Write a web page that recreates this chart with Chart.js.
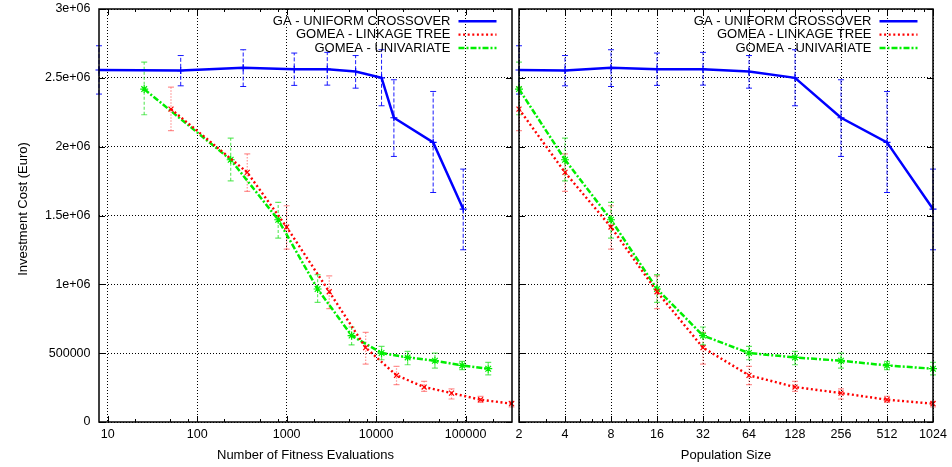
<!DOCTYPE html>
<html><head><meta charset="utf-8">
<script src="https://cdn.jsdelivr.net/npm/chart.js@4"></script>
<style>
html,body{margin:0;padding:0;background:#fff;}
#wrap{position:relative;width:952px;height:467px;background:#fff;}
canvas{position:absolute;left:0;top:0;}
</style></head><body>
<div id="wrap"><canvas id="c1" width="952" height="467"></canvas><canvas id="c2" width="952" height="467"></canvas></div>
<script>
// ---- data ----
const seriesNames = ['GA - UNIFORM CROSSOVER', 'GOMEA - LINKAGE TREE', 'GOMEA - UNIVARIATE'];
const popSizes = [2, 4, 8, 16, 32, 64, 128, 256, 512, 1024];

const gaEvals = [8, 65.5, 327, 1216, 2845, 5900, 11500, 15800, 43400, 94000];
const gaCost  = [2557000, 2553000, 2573000, 2563000, 2563000, 2546000, 2500000, 2210000, 2031000, 1547000];
const gaLo    = [2382000, 2442000, 2437000, 2445000, 2447000, 2425000, 2297000, 1929000, 1667000, 1251000];
const gaHi    = [2733000, 2662000, 2704000, 2680000, 2685000, 2662000, 2704000, 2486000, 2401000, 1837000];

const ltEvals = [51, 363, 1000, 2993, 7640, 16900, 34400, 69600, 147000, 326000];
const ltCost  = [2273000, 1813000, 1416000, 946000, 540000, 339000, 254000, 210000, 162000, 133000];
const ltLo    = [2116000, 1675000, 1256000, 823000, 421000, 271000, 222000, 167000, 142000, 109000];
const ltHi    = [2433000, 1948000, 1571000, 1062000, 651000, 404000, 295000, 240000, 186000, 150000];

const uniEvals = [25.6, 237, 805, 2218, 5320, 11500, 22500, 45400, 91600, 179000];
const uniCost  = [2418000, 1905000, 1469000, 966000, 628000, 501000, 469000, 445000, 411000, 387000];
const uniLo    = [2232000, 1752000, 1336000, 869000, 560000, 452000, 416000, 392000, 380000, 343000];
const uniHi    = [2614000, 2062000, 1595000, 1070000, 690000, 549000, 513000, 501000, 440000, 433000];

const evalTicks = [10, 100, 1000, 10000, 100000];
const evalTickLabels = ['10', '100', '1000', '10000', '100000'];
const evalMinorTicks = [20, 50, 80, 200, 500, 800, 2000, 5000, 8000, 20000, 50000, 80000, 200000];
const popTicks = [2, 4, 8, 16, 32, 64, 128, 256, 512, 1024];
const popTickLabels = ['2', '4', '8', '16', '32', '64', '128', '256', '512', '1024'];
const popMinorTicks = [3, 5, 6, 7, 10, 12, 14, 20, 24, 28, 40, 48, 56, 80, 96, 112, 160, 192, 224, 320, 384, 448, 640, 768, 896];
const costTicks = [0, 500000, 1000000, 1500000, 2000000, 2500000, 3000000];
const costTickLabels = ['0', '500000', '1e+06', '1.5e+06', '2e+06', '2.5e+06', '3e+06'];

const yTitle = 'Investment Cost (Euro)';
const xTitleLeft = 'Number of Fitness Evaluations';
const xTitleRight = 'Population Size';

// ---- styling ----
const FONT = '"Liberation Sans", Arial, Helvetica, sans-serif';
Chart.defaults.font.family = FONT;
Chart.defaults.color = '#000';

const styles = [
  {color: '#0000ff', width: 2.5, dash: [], point: 'cross', radius: 3.5,
   errColor: 'rgba(0,0,255,0.9)', errDash: [4, 2], errWidth: 1},
  {color: '#ff0000', width: 2.4, dash: [2, 2.6], point: 'crossRot', radius: 3.5,
   errColor: 'rgba(255,60,60,0.55)', errDash: [1.5, 1.5], errWidth: 1.2},
  {color: '#00ee00', width: 2.5, dash: [6, 2, 2, 2], point: 'star', radius: 4,
   errColor: 'rgba(0,220,0,0.6)', errDash: [3, 2], errWidth: 1.2}
];

function makeDatasets(xsList) {
  const ys = [gaCost, ltCost, uniCost];
  const lo = [gaLo, ltLo, uniLo];
  const hi = [gaHi, ltHi, uniHi];
  return seriesNames.map((name, k) => {
    const s = styles[k];
    return {
      label: name,
      data: xsList[k].map((x, i) => ({x: x, y: ys[k][i]})),
      borderColor: s.color, backgroundColor: s.color,
      borderWidth: s.width, borderDash: s.dash, borderCapStyle: 'butt',
      pointStyle: s.point, pointRadius: s.radius, pointBorderWidth: 1.2,
      pointBorderColor: s.color, pointBackgroundColor: s.color,
      fill: false, tension: 0, clip: false,
      errLo: lo[k], errHi: hi[k], errColor: s.errColor, errDash: s.errDash, errWidth: s.errWidth
    };
  });
}

const errPlugin = {
  id: 'errbars',
  beforeDatasetsDraw(chart) {
    const ctx = chart.ctx, xs = chart.scales.x, ys = chart.scales.y;
    chart.data.datasets.forEach(ds => {
      ctx.save();
      ctx.strokeStyle = ds.errColor;
      ctx.lineWidth = ds.errWidth;
      ds.data.forEach((p, i) => {
        const px = xs.getPixelForValue(p.x);
        const yl = ys.getPixelForValue(ds.errLo[i]);
        const yh = ys.getPixelForValue(ds.errHi[i]);
        ctx.setLineDash(ds.errDash);
        ctx.beginPath(); ctx.moveTo(px, yl); ctx.lineTo(px, yh); ctx.stroke();
        ctx.setLineDash([]);
        ctx.beginPath();
        ctx.moveTo(px - 3, yl); ctx.lineTo(px + 3, yl);
        ctx.moveTo(px - 3, yh); ctx.lineTo(px + 3, yh);
        ctx.stroke();
      });
      ctx.restore();
    });
  }
};

function framePlugin(minorTicks) {
  return {
    id: 'frame',
    afterDraw(chart) {
      const ctx = chart.ctx, a = chart.chartArea, xs = chart.scales.x, ys = chart.scales.y;
      ctx.save();
      ctx.strokeStyle = '#000';
      ctx.lineWidth = 1;
      ctx.beginPath();
      xs.ticks.forEach(t => {
        const px = Math.round(xs.getPixelForValue(t.value)) + 0.5;
        ctx.moveTo(px, a.bottom); ctx.lineTo(px, a.bottom - 6);
        ctx.moveTo(px, a.top); ctx.lineTo(px, a.top + 6);
      });
      minorTicks.forEach(v => {
        const px = Math.round(xs.getPixelForValue(v)) + 0.5;
        ctx.moveTo(px, a.bottom); ctx.lineTo(px, a.bottom - 3);
        ctx.moveTo(px, a.top); ctx.lineTo(px, a.top + 3);
      });
      ys.ticks.forEach(t => {
        const py = Math.round(ys.getPixelForValue(t.value)) + 0.5;
        ctx.moveTo(a.left, py); ctx.lineTo(a.left + 6, py);
        ctx.moveTo(a.right, py); ctx.lineTo(a.right - 6, py);
      });
      ctx.stroke();
      ctx.lineWidth = 1.5;
      ctx.strokeRect(a.left, a.top, a.right - a.left, a.bottom - a.top);
      ctx.restore();
    }
  };
}

const legendPlugin = {
  id: 'gpLegend',
  afterDatasetsDraw(chart) {
    const ctx = chart.ctx, a = chart.chartArea;
    const rows = [12.3, 25.6, 39];
    ctx.save();
    ctx.font = '13px ' + FONT;
    ctx.textAlign = 'right';
    ctx.textBaseline = 'middle';
    chart.data.datasets.forEach((ds, k) => {
      const y = a.top + rows[k];
      ctx.fillStyle = '#000';
      ctx.fillText(ds.label, a.right - 61.5, y);
      ctx.strokeStyle = ds.borderColor;
      ctx.lineWidth = ds.borderWidth;
      ctx.setLineDash(ds.borderDash);
      ctx.lineCap = 'butt';
      ctx.beginPath(); ctx.moveTo(a.right - 53.5, y); ctx.lineTo(a.right - 15.5, y); ctx.stroke();
    });
    ctx.restore();
  }
};

const yTitlePlugin = {
  id: 'yTitle',
  afterDraw(chart) {
    const ctx = chart.ctx;
    ctx.save();
    ctx.translate(23.5, 209);
    ctx.rotate(-Math.PI / 2);
    ctx.font = '13px ' + FONT;
    ctx.fillStyle = '#000';
    ctx.textAlign = 'center';
    ctx.textBaseline = 'middle';
    ctx.fillText(yTitle, 0, 0);
    ctx.restore();
  }
};

function panel(id, cfg) {
  const gridOpts = {color: '#000', lineWidth: 1, drawTicks: false};
  const plugins = [errPlugin, framePlugin(cfg.minor), legendPlugin];
  if (cfg.yTitle) plugins.push(yTitlePlugin);
  return new Chart(document.getElementById(id), {
    type: 'line',
    data: {datasets: makeDatasets(cfg.xs)},
    options: {
      responsive: false, animation: false, devicePixelRatio: 1, events: [],
      layout: {padding: {left: cfg.padLeft, right: cfg.padRight, top: 9, bottom: 0}},
      plugins: {legend: {display: false}, tooltip: {enabled: false}},
      scales: {
        x: {
          type: 'logarithmic', position: 'bottom', min: cfg.min, max: cfg.max,
          afterBuildTicks(s) { s.ticks = cfg.ticks.map(v => ({value: v})); },
          afterFit(s) { s.height = 45; s.paddingLeft = 0; s.paddingRight = 0; },
          ticks: {
            autoSkip: false, maxRotation: 0, minRotation: 0, padding: 5.5,
            color: '#000', font: {size: 12.5},
            callback: (v) => { const i = cfg.ticks.indexOf(v); return i >= 0 ? cfg.labels[i] : ''; }
          },
          grid: gridOpts,
          border: {display: false, dash: [1, 2]},
          title: {display: true, text: cfg.xTitle, color: '#000', font: {size: 13}, padding: {top: 0, bottom: 4.2}}
        },
        y: {
          type: 'linear', min: 0, max: 3000000,
          afterBuildTicks(s) { s.ticks = costTicks.map(v => ({value: v})); },
          afterFit(s) { s.width = cfg.yWidth; s.paddingTop = 0; s.paddingBottom = 0; },
          ticks: {
            display: cfg.yLabels, padding: 8.5, color: '#000', font: {size: 12.5},
            callback: (v) => { const i = costTicks.indexOf(v); return i >= 0 ? costTickLabels[i] : ''; }
          },
          grid: gridOpts,
          border: {display: false, dash: [1, 2]}
        }
      }
    },
    plugins: plugins
  });
}

panel('c1', {
  xs: [gaEvals, ltEvals, uniEvals], min: 8, max: 330000,
  ticks: evalTicks, labels: evalTickLabels, minor: evalMinorTicks,
  xTitle: xTitleLeft, padLeft: 0, padRight: 440, yWidth: 99, yLabels: true, yTitle: true
});
panel('c2', {
  xs: [popSizes, popSizes, popSizes], min: 2, max: 1024,
  ticks: popTicks, labels: popTickLabels, minor: popMinorTicks,
  xTitle: xTitleRight, padLeft: 519, padRight: 19, yWidth: 0, yLabels: false, yTitle: false
});
</script>
</body></html>
